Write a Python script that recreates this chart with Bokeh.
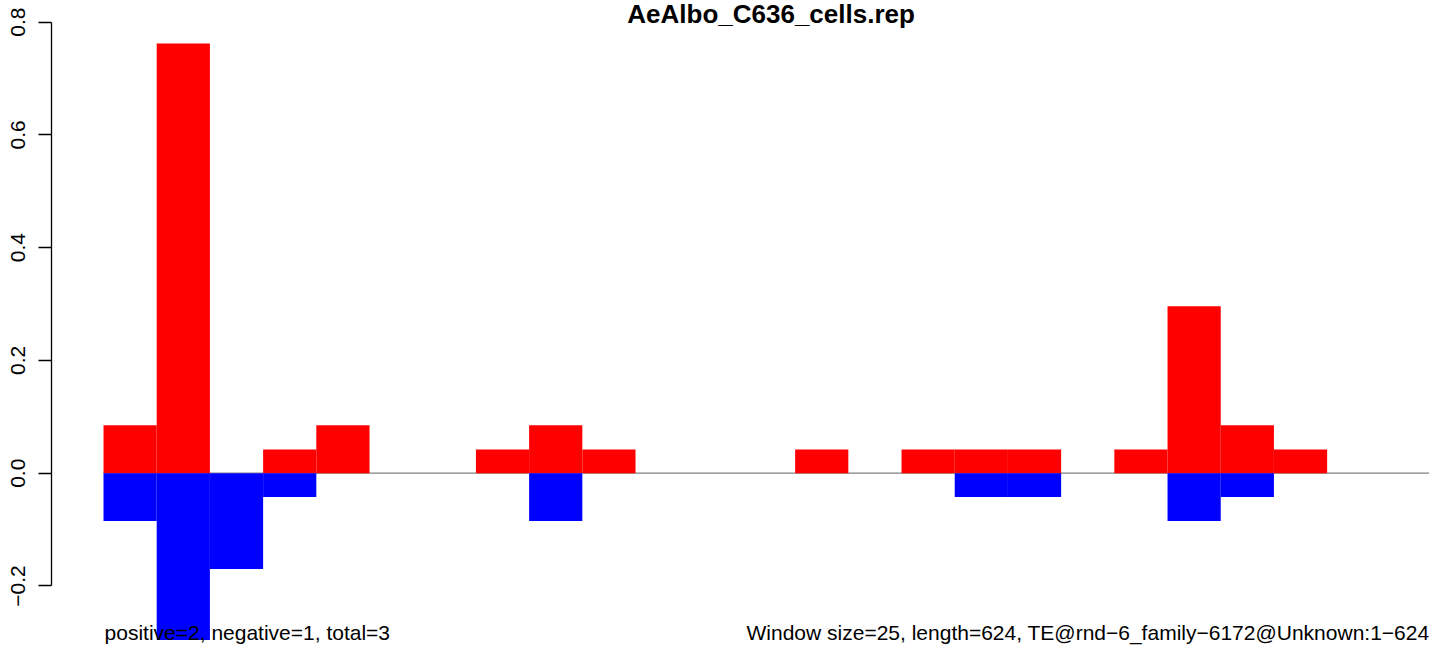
from bokeh.plotting import figure
from bokeh.models import Range1d, FixedTicker, Label, ColumnDataSource
from bokeh.embed import file_html
from bokeh.resources import INLINE

# ---- data ----
title_text = "AeAlbo_C636_cells.rep"
window_size = 25
te_length = 624
window_start = [0, 25, 50, 75, 100, 125, 150, 175, 200, 225, 250, 275, 300,
                325, 350, 375, 400, 425, 450, 475, 500, 525, 550, 575, 600]
positive_vals = [0.085, 0.762, 0.0, 0.042, 0.085, 0.0, 0.0, 0.042, 0.085, 0.042,
                 0.0, 0.0, 0.0, 0.042, 0.0, 0.042, 0.042, 0.042, 0.0, 0.042,
                 0.296, 0.085, 0.042, 0.0, 0.0]
negative_vals = [-0.085, -0.296, -0.170, -0.042, 0.0, 0.0, 0.0, 0.0, -0.085, 0.0,
                 0.0, 0.0, 0.0, 0.0, 0.0, 0.0, -0.042, -0.042, 0.0, 0.0,
                 -0.085, -0.042, 0.0, 0.0, 0.0]
y_ticks = [-0.2, 0.0, 0.2, 0.4, 0.6, 0.8]
y_tick_labels = ["\u22120.2", "0.0", "0.2", "0.4", "0.6", "0.8"]
left_note = "positive=2, negative=1, total=3"
right_note = ("Window size=25, length=624, "
              "TE@rnd\u22126_family\u22126172@Unknown:1\u2212624")

FONT = "Liberation Sans"

p = figure(width=1429, height=645, output_backend="svg", toolbar_location=None,
           x_axis_type=None, y_axis_location="left",
           x_range=Range1d(-24.44, 623.1), y_range=Range1d(-0.3056, 0.8384),
           min_border_left=51, min_border_right=0, min_border_top=0,
           min_border_bottom=0)
p.outline_line_color = None
p.grid.visible = False
p.background_fill_color = "white"
p.border_fill_color = "white"

# zero line
p.segment(x0=[0], y0=[0], x1=[te_length], y1=[0], line_color="#808080",
          line_width=1.3)

src = ColumnDataSource(dict(
    left=window_start,
    right=[s + window_size for s in window_start],
    pos=positive_vals,
    neg=negative_vals,
    zero=[0.0] * len(window_start),
))
p.quad(left="left", right="right", bottom="zero", top="pos", source=src,
       fill_color="#FF0000", line_color=None)
p.quad(left="left", right="right", bottom="neg", top="zero", source=src,
       fill_color="#0000FF", line_color=None)

ax = p.yaxis[0]
ax.ticker = FixedTicker(ticks=y_ticks, minor_ticks=[])
ax.major_label_overrides = {t: l for t, l in zip(y_ticks, y_tick_labels)}
ax.bounds = (y_ticks[0], y_ticks[-1])
ax.major_label_orientation = "vertical"
ax.major_label_text_font = FONT
ax.major_label_text_font_size = "21px"
ax.major_label_text_color = "black"
ax.major_label_standoff = 13
ax.major_tick_out = 13
ax.major_tick_in = 0
ax.minor_tick_out = 0
ax.minor_tick_in = 0
ax.axis_line_color = "black"
ax.major_tick_line_color = "black"
ax.axis_line_width = 1.3
ax.major_tick_line_width = 1.3

p.add_layout(Label(x=313.7, y=0.8136, text=title_text, text_font=FONT,
                   text_font_size="26px", text_font_style="bold",
                   text_align="center", text_baseline="alphabetic",
                   text_color="black"))
p.add_layout(Label(x=0.5, y=-0.2817, text=left_note, text_font=FONT,
                   text_font_size="21px", text_align="left",
                   text_baseline="alphabetic", text_color="black"))
p.add_layout(Label(x=623.1, y=-0.2817, text=right_note, text_font=FONT,
                   text_font_size="21px", text_align="right",
                   text_baseline="alphabetic", text_color="black"))

open("out.html", "w").write(file_html(p, INLINE))
